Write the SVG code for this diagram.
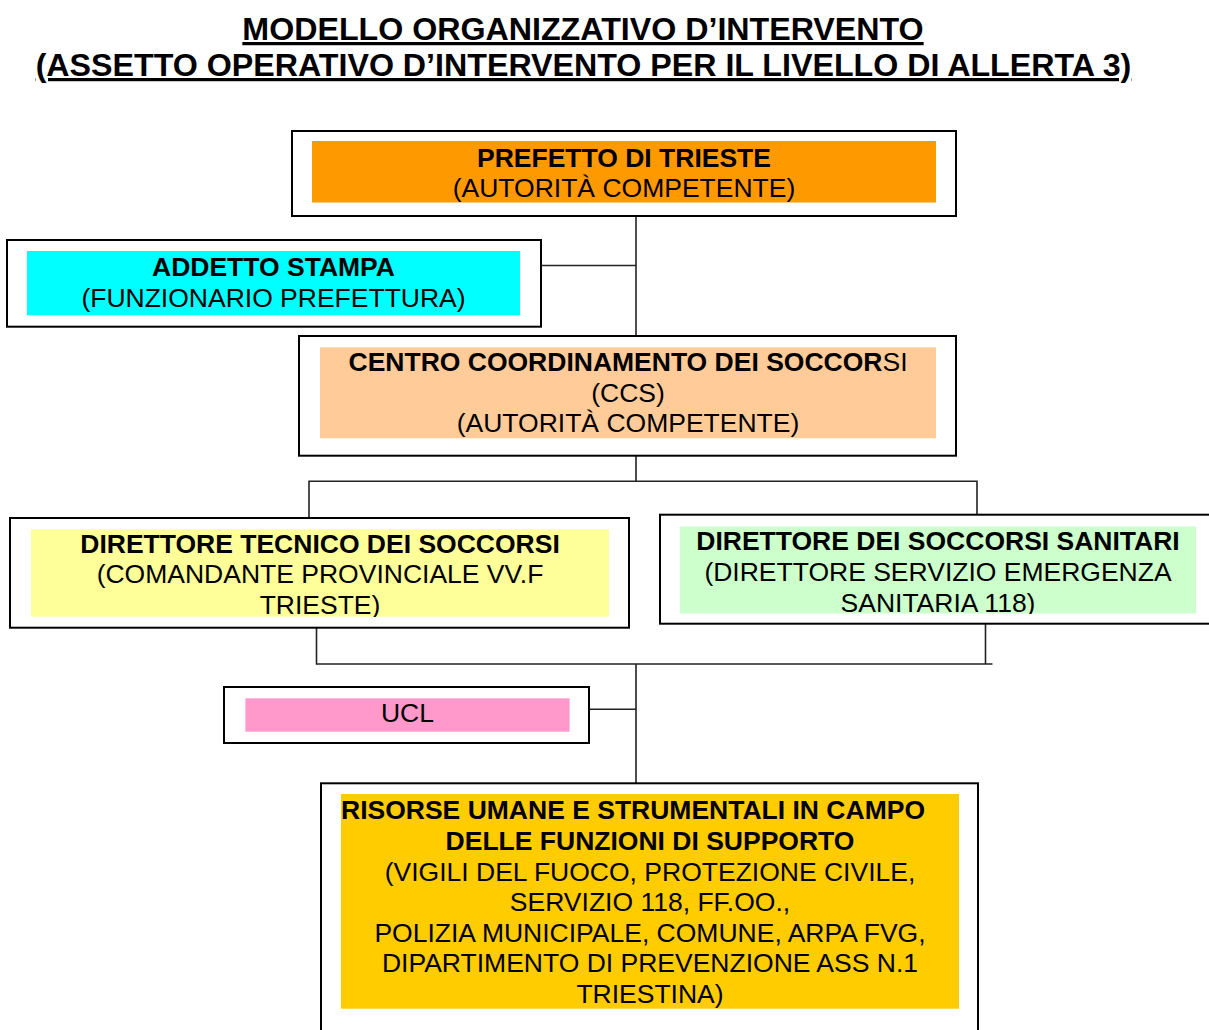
<svg xmlns="http://www.w3.org/2000/svg" width="1209" height="1030" viewBox="0 0 1209 1030">
  <style>
    .title { font-family: "Liberation Sans", Arial, sans-serif; font-weight: bold; font-size: 32.2px; text-anchor: middle; text-decoration: underline; text-decoration-skip-ink: none; fill: #000; }
    .frame { fill: #fff; stroke: #000; stroke-width: 2; }
    .t { font-family: "Liberation Sans", Arial, sans-serif; font-size: 26.5px; text-anchor: middle; fill: #000; }
    .b { font-weight: bold; }
    .conn { fill: none; stroke: #222; stroke-width: 1.6; }
  </style>
  <defs>
    <clipPath id="clipDts"><rect x="31" y="529" width="578" height="88"/></clipPath>
    <clipPath id="clipDss"><rect x="680" y="526" width="516" height="88"/></clipPath>
  </defs>
  <rect width="1209" height="1030" fill="#fff"/>

  <g id="title">
    <text class="title" x="583" y="40">MODELLO ORGANIZZATIVO D’INTERVENTO</text>
    <text class="title" x="583.5" y="76">(ASSETTO OPERATIVO D’INTERVENTO PER IL LIVELLO DI ALLERTA 3)</text>
  </g>

  <g id="connectors">
    <path class="conn" d="M636 216 V336"/>
    <path class="conn" d="M541 265.5 H636"/>
    <path class="conn" d="M636 456 V481.3 M309 519 V481.3 H977 V519"/>
    <path class="conn" d="M316.5 628 V664 H992.5 M985.5 624 V664 M636 664 V783"/>
    <path class="conn" d="M589 709.3 H636"/>
  </g>

  <g id="prefetto">
    <rect class="frame" x="292" y="131" width="664" height="85"/>
    <rect x="312" y="141" width="624" height="61.5" fill="#FF9900"/>
    <text class="t b" x="624" y="166.7">PREFETTO DI TRIESTE</text>
    <text class="t" x="624" y="196.5">(AUTORITÀ COMPETENTE)</text>
  </g>

  <g id="addetto-stampa">
    <rect class="frame" x="7" y="240" width="534" height="86.7"/>
    <rect x="27" y="251" width="493" height="64.3" fill="#00FFFF"/>
    <text class="t b" x="273.5" y="275.7">ADDETTO STAMPA</text>
    <text class="t" x="273.5" y="306.7">(FUNZIONARIO PREFETTURA)</text>
  </g>

  <g id="ccs">
    <rect class="frame" x="299" y="336" width="657" height="119.7"/>
    <rect x="320" y="347.3" width="616" height="91" fill="#FFCC99"/>
    <text class="t" x="628" y="370.7"><tspan class="b">CENTRO COORDINAMENTO DEI SOCCOR</tspan>SI</text>
    <text class="t" x="628" y="401.7">(CCS)</text>
    <text class="t" x="628" y="431.7">(AUTORITÀ COMPETENTE)</text>
  </g>

  <g id="direttore-tecnico">
    <rect class="frame" x="10" y="518" width="619" height="109.7"/>
    <rect x="31" y="529.3" width="578" height="87.4" fill="#FFFF99"/>
    <g clip-path="url(#clipDts)">
      <text class="t b" x="320" y="552.7">DIRETTORE TECNICO DEI SOCCORSI</text>
      <text class="t" x="320" y="583.3">(COMANDANTE PROVINCIALE VV.F</text>
      <text class="t" x="320" y="614">TRIESTE)</text>
    </g>
  </g>

  <g id="direttore-sanitari">
    <rect class="frame" x="660" y="514.7" width="560" height="109"/>
    <rect x="680" y="526.5" width="516" height="87" fill="#CCFFCC"/>
    <g clip-path="url(#clipDss)">
      <text class="t b" x="938" y="550">DIRETTORE DEI SOCCORSI SANITARI</text>
      <text class="t" x="938" y="581">(DIRETTORE SERVIZIO EMERGENZA</text>
      <text class="t" x="938" y="611.7">SANITARIA 118)</text>
    </g>
  </g>

  <g id="ucl">
    <rect class="frame" x="224" y="687" width="365" height="56"/>
    <rect x="245.4" y="698.3" width="324.2" height="33.4" fill="#FF99CC"/>
    <text class="t" x="407.5" y="721.7">UCL</text>
  </g>

  <g id="risorse">
    <rect class="frame" x="321" y="783.3" width="657" height="260"/>
    <rect x="341" y="794" width="618" height="214.7" fill="#FFCC00"/>
    <text class="t b" x="341" y="819.4" style="text-anchor:start">RISORSE UMANE E STRUMENTALI IN CAMPO</text>
    <text class="t b" x="650" y="850">DELLE FUNZIONI DI SUPPORTO</text>
    <text class="t" x="650" y="880.6">(VIGILI DEL FUOCO, PROTEZIONE CIVILE,</text>
    <text class="t" x="650" y="911.2">SERVIZIO 118, FF.OO.,</text>
    <text class="t" x="650" y="941.8">POLIZIA MUNICIPALE, COMUNE, ARPA FVG,</text>
    <text class="t" x="650" y="972.4">DIPARTIMENTO DI PREVENZIONE ASS N.1</text>
    <text class="t" x="650" y="1003">TRIESTINA)</text>
  </g>
</svg>
